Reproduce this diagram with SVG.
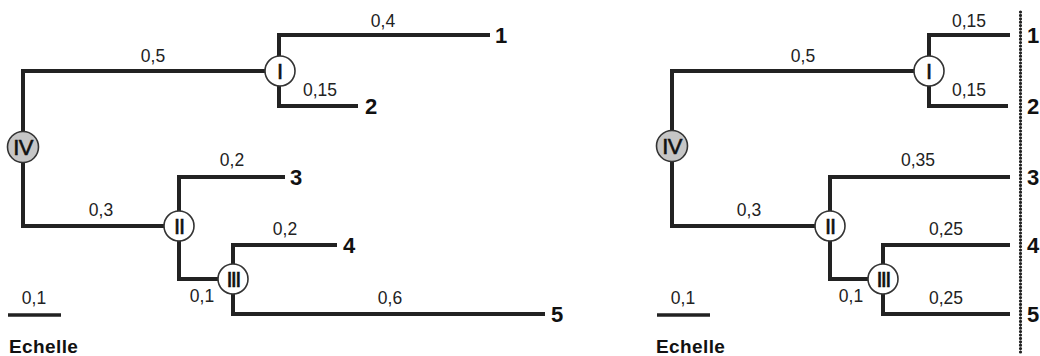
<svg xmlns="http://www.w3.org/2000/svg" width="1040" height="356" viewBox="0 0 1040 356">
  <style>
    .br { fill: none; stroke: #222; stroke-width: 4; stroke-linejoin: miter; stroke-linecap: butt; }
    .nd { fill: #fff; stroke: #333; stroke-width: 1.6; }
    .root { fill: #c6c6c6; stroke: #333; stroke-width: 1.6; }
    .rn { font-family: "Liberation Sans", Arial, sans-serif; font-size: 22px; fill: #111; text-anchor: middle; stroke: #111; stroke-width: 0.6; }
    .len { font-family: "Liberation Sans", Arial, sans-serif; font-size: 17.5px; fill: #222; text-anchor: middle; }
    .leaf { font-family: "Liberation Sans", Arial, sans-serif; font-size: 22px; font-weight: bold; fill: #111; }
    .scale { font-family: "Liberation Sans", Arial, sans-serif; font-size: 19px; font-weight: bold; fill: #111; letter-spacing: 0.4px; }
    .bar { stroke: #222; stroke-width: 3.5; }
    .dots { stroke: #222; stroke-width: 3.2; stroke-linecap: round; stroke-dasharray: 0 3.4; fill: none; }
  </style>

  <!-- Left tree: branch lengths drawn to scale -->
  <g id="left-tree">
    <g id="left-connectors">
      <path class="br" d="M280,71 H23 V226 H179"/>
      <path class="br" d="M490,35 H279 V106 H358"/>
      <path class="br" d="M285,177 H179 V279 H233"/>
      <path class="br" d="M337,245 H233 V314 H545"/>
    </g>
    <g id="left-lengths">
      <text class="len" x="153" y="62">0,5</text>
      <text class="len" x="383" y="27">0,4</text>
      <text class="len" x="320" y="96">0,15</text>
      <text class="len" x="232" y="166">0,2</text>
      <text class="len" x="101" y="216">0,3</text>
      <text class="len" x="285" y="235">0,2</text>
      <text class="len" x="202" y="302">0,1</text>
      <text class="len" x="390" y="304">0,6</text>
    </g>
    <g id="left-node-IV"><circle class="root" cx="23" cy="147" r="15.5"/><text class="rn" x="23" y="155" font-size="21" letter-spacing="-0.6">IV</text></g>
    <g id="left-node-I"><circle class="nd" cx="280" cy="71" r="15"/><text class="rn" x="280" y="79">I</text></g>
    <g id="left-node-II"><circle class="nd" cx="179" cy="226" r="15"/><text class="rn" x="179" y="234" letter-spacing="-1.2">II</text></g>
    <g id="left-node-III"><circle class="nd" cx="233" cy="279" r="15"/><text class="rn" x="233" y="287" letter-spacing="-1.8">III</text></g>
    <g id="left-leaves">
      <text class="leaf" x="495" y="43">1</text>
      <text class="leaf" x="365" y="114">2</text>
      <text class="leaf" x="290" y="185">3</text>
      <text class="leaf" x="343" y="253">4</text>
      <text class="leaf" x="551" y="322">5</text>
    </g>
    <g id="left-scale">
      <line class="bar" x1="8" y1="315" x2="61" y2="315"/>
      <text class="len" x="34" y="304">0,1</text>
      <text class="scale" x="9" y="353">Echelle</text>
    </g>
  </g>

  <!-- Right tree: ultrametric, all leaves aligned -->
  <g id="right-tree">
    <g id="right-connectors">
      <path class="br" d="M929,71 H672 V226 H830"/>
      <path class="br" d="M1010,35 H929 V106 H1008"/>
      <path class="br" d="M1010,177 H830 V279 H883"/>
      <path class="br" d="M1010,245 H883 V314 H1010"/>
      <line class="dots" x1="1020.5" y1="12" x2="1020.5" y2="354"/>
    </g>
    <g id="right-lengths">
      <text class="len" x="803" y="62">0,5</text>
      <text class="len" x="969" y="27">0,15</text>
      <text class="len" x="969" y="96">0,15</text>
      <text class="len" x="918" y="166">0,35</text>
      <text class="len" x="749" y="216">0,3</text>
      <text class="len" x="946" y="235">0,25</text>
      <text class="len" x="851" y="302">0,1</text>
      <text class="len" x="946" y="304">0,25</text>
    </g>
    <g id="right-node-IV"><circle class="root" cx="672" cy="146" r="15.5"/><text class="rn" x="672" y="154" font-size="21" letter-spacing="-0.6">IV</text></g>
    <g id="right-node-I"><circle class="nd" cx="929" cy="71" r="15"/><text class="rn" x="929" y="79">I</text></g>
    <g id="right-node-II"><circle class="nd" cx="830" cy="226" r="15"/><text class="rn" x="830" y="234" letter-spacing="-1.2">II</text></g>
    <g id="right-node-III"><circle class="nd" cx="883" cy="279" r="15"/><text class="rn" x="883" y="287" letter-spacing="-1.8">III</text></g>
    <g id="right-leaves">
      <text class="leaf" x="1027" y="43">1</text>
      <text class="leaf" x="1027" y="114">2</text>
      <text class="leaf" x="1027" y="185">3</text>
      <text class="leaf" x="1027" y="253">4</text>
      <text class="leaf" x="1027" y="322">5</text>
    </g>
    <g id="right-scale">
      <line class="bar" x1="657" y1="315" x2="710" y2="315"/>
      <text class="len" x="683" y="304">0,1</text>
      <text class="scale" x="656" y="353">Echelle</text>
    </g>
  </g>
</svg>
